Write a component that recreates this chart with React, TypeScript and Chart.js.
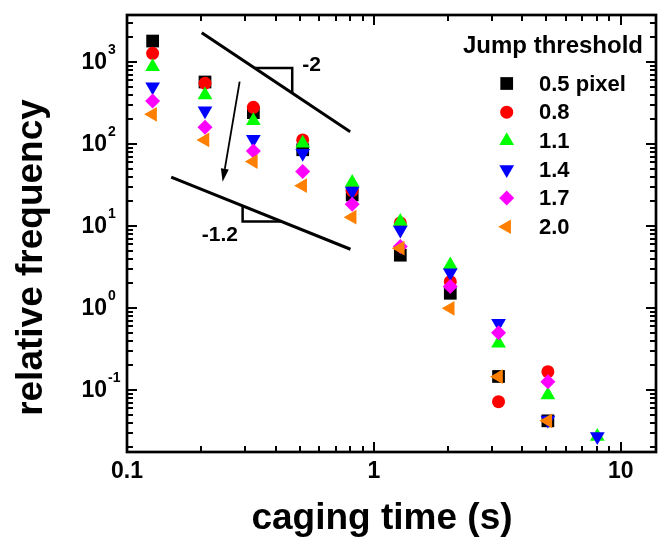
import React, { useEffect, useRef } from 'react';
import { Chart, registerables } from 'chart.js';
import { drawPoint } from 'chart.js/helpers';

Chart.register(...registerables);

// ---------- data ----------
const cagingTimes = [0.127, 0.207, 0.325, 0.515, 0.817, 1.28, 2.04, 3.2, 5.07, 8.04];
const thr05 = [1800, 570, 241, 85, 23.9, 4.4, 1.51, 0.146, 0.042, null];
const thr08 = [1276, 550, 280, 112, 27, 10.9, 2.09, 0.072, 0.167, null];
const thr11 = [877, 396, 192, 102, 34, 11.3, 3.34, 0.37, 0.087, 0.027];
const thr14 = [500, 255, 114, 77, 26.7, 8.9, 2.69, 0.65, 0.043, 0.027];
const thr17 = [334, 160, 82, 46, 18.4, 5.6, 1.82, 0.5, 0.126, null];
const thr20 = [230, 112, 61, 31, 12.8, 5.35, 0.99, 0.145, 0.042, null];

const seriesLabels = ['0.5 pixel', '0.8', '1.1', '1.4', '1.7', '2.0'];
const seriesValues = [thr05, thr08, thr11, thr14, thr17, thr20];
const seriesColors = ['#000000', '#ff0000', '#00ff00', '#0000ff', '#ff00ff', '#ff8000'];
const seriesStyles = ['rect', 'circle', 'triangle', 'triangle', 'rectRot', 'triangle'];
const seriesRotations = [0, 0, 0, 180, 0, -90];
const seriesRadii = [9, 6.5, 8.5, 8.5, 7.5, 8.5];

const legendTitle = 'Jump threshold';
const xTitle = 'caging time (s)';
const yTitle = 'relative frequency';

const xTickValues = [0.1, 1, 10];
const xTickLabels = ['0.1', '1', '10'];
const yTickValues = [0.1, 1, 10, 100, 1000];
const yTickExponents = ['-1', '0', '1', '2', '3'];

const xMin = 0.1;
const xMax = 13.9;
const yMin = 0.0175;
const yMax = 3740;

// annotation guides (data coordinates)
const slopeLineUpper = [[0.2008, 2277], [0.802, 141]];
const slopeTriUpper = [[0.33, 843], [0.467, 843], [0.467, 420]];
const slopeLabelUpper = { x: 0.56, y: 920, text: '-2' };
const slopeLineLower = [[0.151, 39.3], [0.804, 5.2]];
const slopeTriLower = [[0.294, 17.5], [0.294, 11.3], [0.422, 11.3]];
const slopeLabelLower = { x: 0.238, y: 7.77, text: '-1.2' };
const arrowPath = [[0.286, 575], [0.244, 34.7]];

const FONT = '"Liberation Sans", Arial, sans-serif';

const overlayPlugin = {
  id: 'overlay',
  beforeDatasetsDraw(chart: any) {
    const { ctx, scales } = chart;
    const xs = scales.x;
    const ys = scales.y;
    const P = (p: number[]) => [xs.getPixelForValue(p[0]), ys.getPixelForValue(p[1])];
    ctx.save();
    ctx.strokeStyle = '#000';
    ctx.fillStyle = '#000';
    ctx.lineCap = 'butt';
    const poly = (pts: number[][], w: number, close: boolean) => {
      ctx.lineWidth = w;
      ctx.beginPath();
      pts.forEach((p, i) => {
        const [px, py] = P(p);
        if (i === 0) ctx.moveTo(px, py);
        else ctx.lineTo(px, py);
      });
      if (close) ctx.closePath();
      ctx.stroke();
    };
    poly(slopeLineUpper, 3, false);
    poly(slopeLineLower, 3, false);
    poly(slopeTriUpper, 2.5, false);
    poly(slopeTriLower, 2.5, false);
    // arrow
    const [ax0, ay0] = P(arrowPath[0]);
    const [ax1, ay1] = P(arrowPath[1]);
    const ang = Math.atan2(ay1 - ay0, ax1 - ax0);
    const headL = 13;
    const headW = 4;
    const bx = ax1 - Math.cos(ang) * headL;
    const by = ay1 - Math.sin(ang) * headL;
    ctx.lineWidth = 1.8;
    ctx.beginPath();
    ctx.moveTo(ax0, ay0);
    ctx.lineTo(bx, by);
    ctx.stroke();
    ctx.beginPath();
    ctx.moveTo(ax1, ay1);
    ctx.lineTo(bx + Math.sin(ang) * headW, by - Math.cos(ang) * headW);
    ctx.lineTo(bx - Math.sin(ang) * headW, by + Math.cos(ang) * headW);
    ctx.closePath();
    ctx.fill();
    // slope labels
    ctx.font = `bold 21px ${FONT}`;
    ctx.textAlign = 'center';
    ctx.textBaseline = 'middle';
    [slopeLabelUpper, slopeLabelLower].forEach((l) => {
      const [lx, ly] = P([l.x, l.y]);
      ctx.fillText(l.text, lx, ly);
    });
    ctx.restore();
  },
  afterDraw(chart: any) {
    const { ctx, scales, chartArea } = chart;
    const xs = scales.x;
    const ys = scales.y;
    const { left, right, top, bottom } = chartArea;
    ctx.save();
    ctx.strokeStyle = '#000';
    ctx.fillStyle = '#000';
    // ticks (inward, all four sides)
    ctx.lineWidth = 2;
    const decadesX = [0.1, 1, 10];
    decadesX.forEach((d) => {
      for (let k = 1; k <= 9; k++) {
        const v = k * d;
        if (v < xMin - 1e-9 || v > xMax) continue;
        const px = Math.round(xs.getPixelForValue(v)) + 0.0;
        const len = k === 1 ? 10 : 6;
        ctx.beginPath();
        ctx.moveTo(px, bottom);
        ctx.lineTo(px, bottom - len);
        ctx.moveTo(px, top);
        ctx.lineTo(px, top + len);
        ctx.stroke();
      }
    });
    const decadesY = [0.01, 0.1, 1, 10, 100, 1000];
    decadesY.forEach((d) => {
      for (let k = 1; k <= 9; k++) {
        const v = k * d;
        if (v < yMin || v > yMax) continue;
        const py = Math.round(ys.getPixelForValue(v));
        const len = k === 1 ? 10 : 6;
        ctx.beginPath();
        ctx.moveTo(left, py);
        ctx.lineTo(left + len, py);
        ctx.moveTo(right, py);
        ctx.lineTo(right - len, py);
        ctx.stroke();
      }
    });
    // frame
    ctx.lineWidth = 2.7;
    ctx.strokeRect(left, top, right - left, bottom - top);

    // x tick labels
    ctx.font = `bold 23px ${FONT}`;
    ctx.textAlign = 'center';
    ctx.textBaseline = 'alphabetic';
    xTickValues.forEach((v, i) => {
      ctx.fillText(xTickLabels[i], xs.getPixelForValue(v), 478);
    });
    // y tick labels 10^n
    yTickValues.forEach((v, i) => {
      const py = ys.getPixelForValue(v);
      ctx.font = `bold 23px ${FONT}`;
      ctx.textAlign = 'right';
      ctx.textBaseline = 'middle';
      ctx.fillText('10', 107, py + 1);
      ctx.font = `bold 14px ${FONT}`;
      ctx.textAlign = 'left';
      ctx.fillText(yTickExponents[i], 108, py - 12);
    });
    // axis titles
    ctx.font = `bold 37px ${FONT}`;
    ctx.textAlign = 'center';
    ctx.textBaseline = 'alphabetic';
    ctx.fillText(xTitle, 382, 529);
    ctx.save();
    ctx.translate(42, 257.5);
    ctx.rotate(-Math.PI / 2);
    ctx.fillText(yTitle, 0, 0);
    ctx.restore();

    // legend
    ctx.font = `bold 24px ${FONT}`;
    ctx.textAlign = 'left';
    ctx.textBaseline = 'middle';
    ctx.fillText(legendTitle, 463, 46);
    ctx.font = `bold 22px ${FONT}`;
    seriesLabels.forEach((lab, i) => {
      const cy = 83.5 + i * 28.65;
      ctx.fillStyle = seriesColors[i];
      drawPoint(
        ctx,
        {
          pointStyle: seriesStyles[i],
          rotation: seriesRotations[i],
          radius: seriesRadii[i],
          borderWidth: 0,
        } as any,
        506.7,
        cy
      );
      ctx.fillStyle = '#000';
      ctx.fillText(lab, 539, cy + 1);
    });
    ctx.restore();
  },
};

export default function App() {
  const canvasRef = useRef<HTMLCanvasElement | null>(null);

  useEffect(() => {
    if (!canvasRef.current) return;
    const datasets = seriesLabels.map((lab, i) => ({
      label: lab,
      data: cagingTimes
        .map((t, j) => ({ x: t, y: seriesValues[i][j] }))
        .filter((p) => p.y !== null),
      pointStyle: seriesStyles[i] as any,
      rotation: seriesRotations[i],
      pointRadius: seriesRadii[i],
      pointHoverRadius: seriesRadii[i],
      backgroundColor: seriesColors[i],
      borderColor: seriesColors[i],
      borderWidth: 0,
      showLine: false,
      order: seriesLabels.length - 1 - i,
    }));
    const chart = new Chart(canvasRef.current, {
      type: 'scatter',
      data: { datasets },
      options: {
        animation: false,
        responsive: false,
        maintainAspectRatio: false,
        devicePixelRatio: 1,
        layout: { padding: { top: 15, right: 2, left: 0, bottom: 0 } },
        plugins: {
          legend: { display: false },
          tooltip: { enabled: false },
          title: { display: false },
        },
        events: [],
        scales: {
          x: {
            type: 'logarithmic',
            min: xMin,
            max: xMax,
            grid: { display: false, drawTicks: false },
            border: { display: false },
            ticks: { display: false },
            afterFit: (s: any) => {
              s.height = 88;
            },
          },
          y: {
            type: 'logarithmic',
            min: yMin,
            max: yMax,
            grid: { display: false, drawTicks: false },
            border: { display: false },
            ticks: { display: false },
            afterFit: (s: any) => {
              s.width = 127;
            },
          },
        },
      },
      plugins: [overlayPlugin],
    });
    return () => chart.destroy();
  }, []);

  return (
    <div style={{ position: 'absolute', left: 0, top: 0, width: 665, height: 540, background: '#fff' }}>
      <canvas ref={canvasRef} width={665} height={540} style={{ width: 665, height: 540 }} />
    </div>
  );
}
